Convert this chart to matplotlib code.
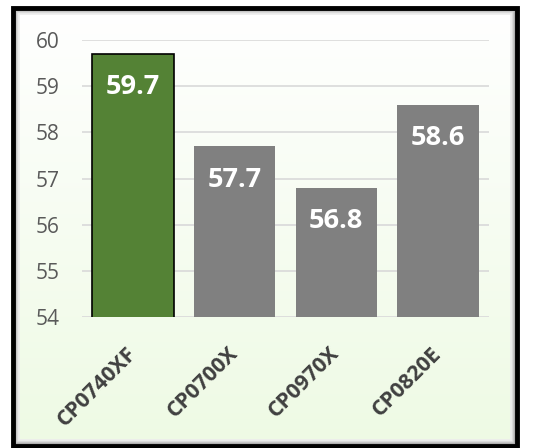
import numpy as np
import matplotlib
matplotlib.use('Agg')
import matplotlib.pyplot as plt
from matplotlib.patches import Rectangle

cats = ['CP0740XF', 'CP0700X', 'CP0970X', 'CP0820E']
vals = [59.7, 57.7, 56.8, 58.6]
colors = ['#548235', '#808080', '#808080', '#808080']
edges = ['black', 'none', 'none', 'none']

plt.rcParams['font.family'] = ['Open Sans', 'DejaVu Sans']

W, H = 545, 448
fig = plt.figure(figsize=(W / 100, H / 100), dpi=100)

# frame background with gradient
fl, fr, fb, ft = 13 / W, 517 / W, 2 / H, 440 / H
bg = fig.add_axes([fl, fb, fr - fl, ft - fb], zorder=0)
grad = np.linspace(0, 1, 256)[:, None]
top = np.array([1.0, 1.0, 1.0])
bot = np.array([0xEE, 0xFA, 0xE4]) / 255
img = top + (bot - top) * grad[..., None]
img = np.repeat(img, 2, axis=1)
bg.imshow(img, aspect='auto', extent=[0, 1, 0, 1], origin='upper')
bg.set_xlim(0, 1)
bg.set_ylim(0, 1)
bg.axis('off')
# bevel shading
for i, g in enumerate(['#9a9a9a', '#b0b0b0', '#c8c8c8', '#dcdcdc', '#ececec']):
    dx = (2 + i) / (fr - fl) / W
    dy = (2 + i) / (ft - fb) / H
    bg.add_patch(Rectangle((dx, dy), 1 - 2 * dx, 1 - 2 * dy, fill=False,
                           edgecolor=g, lw=1.2, transform=bg.transAxes))
bg.add_patch(Rectangle((0, 0), 1, 1, fill=False, edgecolor='black', lw=3.5,
                       transform=bg.transAxes, clip_on=False))

ax = fig.add_axes([82 / W, (H - 317) / H, (489 - 82) / W, (317 - 40) / H], zorder=1)
ax.patch.set_alpha(0)
x = np.arange(len(cats))
bars = ax.bar(x, vals, width=0.8, color=colors, edgecolor=edges, linewidth=1.2, zorder=2)
ax.set_ylim(54, 60)
ax.set_xlim(-0.5, len(cats) - 0.5)
ax.set_yticks(range(54, 61))
ax.grid(axis='y', color='#d9d9d9', lw=1.2, zorder=0)
for s in ax.spines.values():
    s.set_visible(False)
ax.tick_params(length=0)
ax.tick_params(axis='y', labelsize=15, labelcolor='#595959', pad=16)
ax.set_xticks(x)
ax.set_xticklabels(cats, rotation=45, ha='right', va='center', rotation_mode='anchor',
                   fontsize=15.5, fontweight='bold', color='#404040')
ax.tick_params(axis='x', pad=24)
for b, v in zip(bars, vals):
    ax.annotate(f'{v}', (b.get_x() + b.get_width() / 2, v), xytext=(0, -24),
                textcoords='offset points', ha='center', va='center',
                fontsize=19.5, fontweight='bold', color='white', zorder=3)

fig.savefig('out.png', dpi=100)
